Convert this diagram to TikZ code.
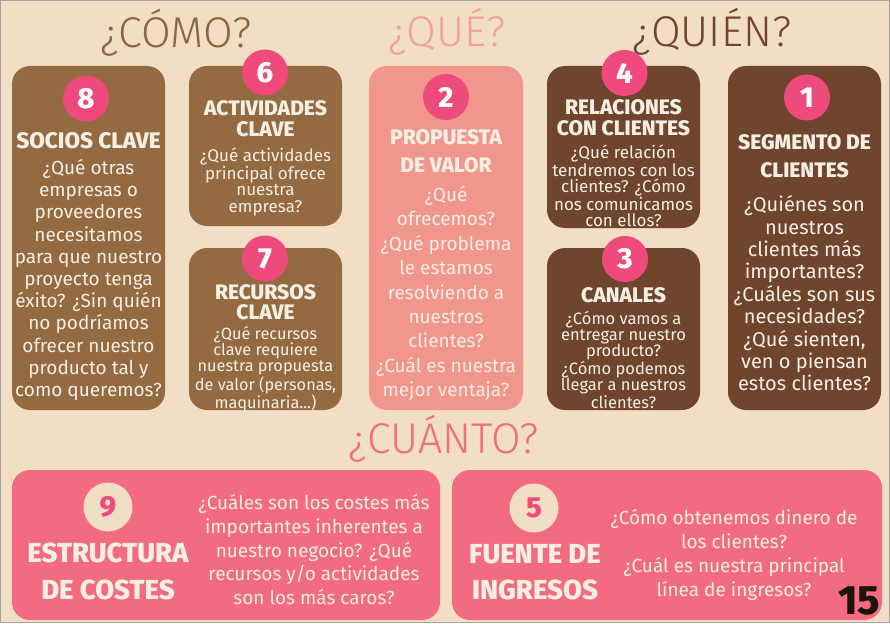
\documentclass[tikz,border=0pt]{standalone}
\usepackage{fontspec}
\setmainfont{Fira Sans}
\newfontfamily\headfont{Fira Sans Light}
\newfontfamily\ttlfont{Fira Sans ExtraBold}
\usetikzlibrary{positioning}

\definecolor{fondo}{HTML}{F2DEC4}
\definecolor{cafe}{HTML}{946A42}
\definecolor{cafeosc}{HTML}{6F452D}
\definecolor{salmon}{HTML}{F0968C}
\definecolor{rosa}{HTML}{F36B80}
\definecolor{fucsia}{HTML}{EE4A7C}
\definecolor{crema}{HTML}{F5EEE2}
\definecolor{marco}{HTML}{A3A3A3}

\begin{document}
\begin{tikzpicture}[x=1pt,y=-1pt,
  box/.style={rounded corners=18pt,inner sep=0pt},
  num/.style={circle,fill=fucsia,text=white,minimum size=46pt,inner sep=0pt,
              font=\fontsize{29}{29}\ttlfont},
  numb/.style={num,fill=fondo,text=fucsia,minimum size=49pt},
  ttl/.style={text=crema,align=center,inner sep=0pt,font=\fontsize{21}{#1}\ttlfont},
  ttlbig/.style={text=crema,align=center,inner sep=0pt,font=\fontsize{27.5}{#1}\ttlfont},
  txtbig/.style={text=crema,align=center,inner sep=0pt,font=\fontsize{19}{#1}\selectfont},
  txtsmall/.style 2 args={text=crema,align=center,inner sep=0pt,font=\fontsize{#1}{#2}\selectfont},
  head/.style={anchor=base,inner sep=0pt,font=\fontsize{43}{43}\headfont}]

\useasboundingbox (0,0) rectangle (890,623);
\fill[fondo] (0,0) rectangle (890,623);
\draw[marco,line width=1.2pt] (0.6,0.6) rectangle (889.4,622.4);

%% headings
\node[head,text=cafe!95!black] (como) at (176,48) {¿CÓMO?};
\node[head,text=salmon!90!white] (que) at (447,47) {¿QUÉ?};
\node[head,text=cafeosc] (quien) at (712,47) {¿QUIÉN?};
\node[head,text=rosa] (cuanto) at (444,453) {¿CUÁNTO?};

%% canvas blocks
\foreach \n/\x/\y/\w/\h/\c in {8/88.5/238/153/344/cafe, 6/265.5/146/153/160/cafe,
    7/265.5/329/153/162/cafe, 2/446/238/154/344/salmon, 4/623.5/147/153/162/cafeosc,
    3/623.5/329/153/162/cafeosc, 1/804.5/238/153/344/cafeosc,
    9/226/545/428/150/rosa, 5/667/545/430/150/rosa}
  \node[box,fill=\c,minimum width=\w pt,minimum height=\h pt] (c\n) at (\x,\y) {};

%% numbers
\foreach \n/\x/\y in {8/86/98.5, 6/265/72.5, 7/265/258.5, 2/446/97, 4/624.5/73,
    3/625/259, 1/807/97.5}
  \node[num] (n\n) at (\x,\y) {\n};
\node[numb] (n9) at (108,507) {9};
\node[numb] (n5) at (534,508) {5};

%% titles
\node[ttl=21,font=\fontsize{22.5}{21}\ttlfont] (t8) at (88.5,141) {SOCIOS CLAVE};
\node[ttl=21] (t6) at (265.5,118.5) {ACTIVIDADES\\CLAVE};
\node[ttl=20] (t7) at (265.5,302.5) {RECURSOS\\CLAVE};
\node[ttl=28] (t2) at (446,151) {PROPUESTA\\DE VALOR};
\node[ttl=21] (t4) at (623.5,117.5) {RELACIONES\\CON CLIENTES};
\node[ttl=21] (t3) at (623.5,295) {CANALES};
\node[ttl=28] (t1) at (804.5,156) {SEGMENTO DE\\CLIENTES};
\node[ttlbig=37] (t9) at (108,571.5) {ESTRUCTURA\\DE COSTES};
\node[ttlbig=36] (t5) at (535,572) {FUENTE DE\\INGRESOS};

%% questions
\node[txtbig=22.2] (q8) at (88.5,280) {¿Qué otras\\empresas o\\proveedores\\necesitamos\\para que nuestro\\proyecto tenga\\éxito? ¿Sin quién\\no podríamos\\ofrecer nuestro\\producto tal y\\como queremos?};
\node[txtsmall={17}{16.8}] (q6) at (265.5,182) {¿Qué actividades\\principal ofrece\\nuestra\\empresa?};
\node[txtsmall={16.3}{16.3}] (q7) at (265.5,369) {¿Qué recursos\\clave requiere\\nuestra propuesta\\de valor (personas,\\maquinaria...)};
\node[txtbig=24.4] (q2) at (446,293.5) {¿Qué\\ofrecemos?\\¿Qué problema\\le estamos\\resolviendo a\\nuestros\\clientes?\\¿Cuál es nuestra\\mejor ventaja?};
\node[txtsmall={17}{16.3}] (q4) at (623.5,186) {¿Qué relación\\tendremos con los\\clientes? ¿Cómo\\nos comunicamos\\con ellos?};
\node[txtsmall={16.5}{16}] (q3) at (623.5,360) {¿Cómo vamos a\\entregar nuestro\\producto?\\¿Cómo podemos\\llegar a nuestros\\clientes?};
\node[txtbig=22.4,font=\fontsize{20}{22.4}\selectfont] (q1) at (804.5,293.5) {¿Quiénes son\\nuestros\\clientes más\\importantes?\\¿Cuáles son sus\\necesidades?\\¿Qué sienten,\\ven o piensan\\estos clientes?};
\node[txtbig=23.8] (q9) at (314,549.5) {¿Cuáles son los costes más\\importantes inherentes a\\nuestro negocio? ¿Qué\\recursos y/o actividades\\son los más caros?};
\node[txtbig=24] (q5) at (734,555) {¿Cómo obtenemos dinero de\\los clientes?\\¿Cuál es nuestra principal\\línea de ingresos?};

%% page number
\node[anchor=base,inner sep=0pt,text=black!85!brown,font=\fontsize{41}{41}\ttlfont] (pag) at (859,614) {15};
\end{tikzpicture}
\end{document}
